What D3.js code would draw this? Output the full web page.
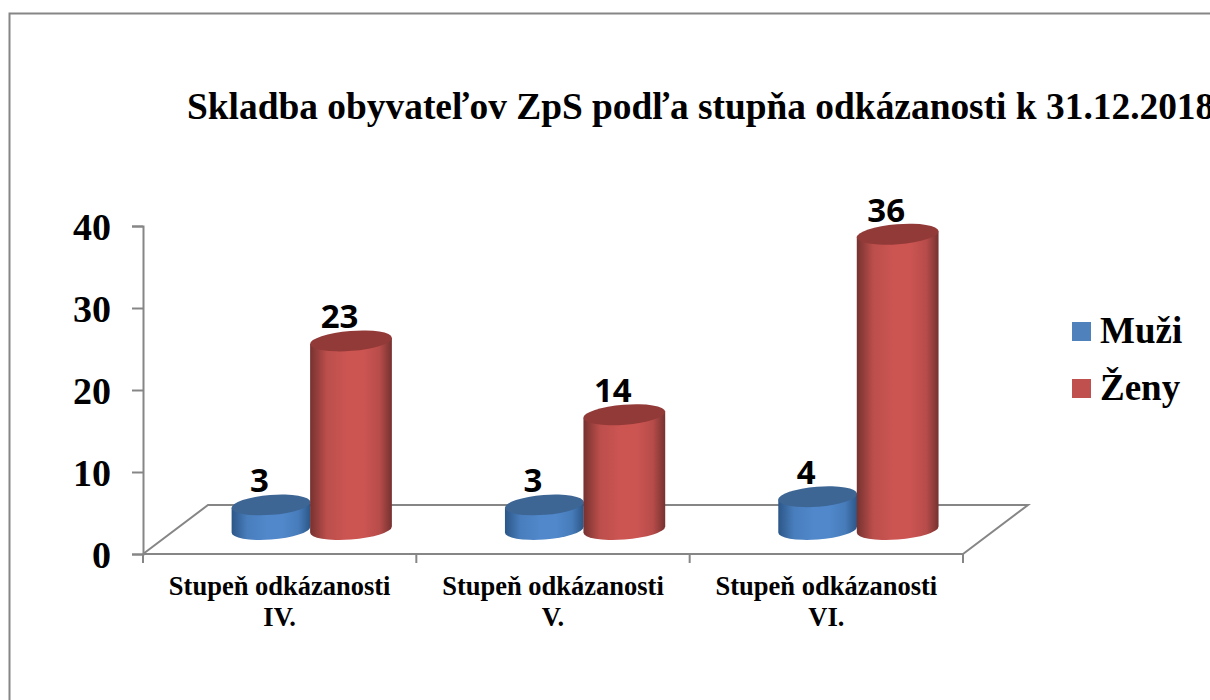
<!DOCTYPE html>
<html><head><meta charset="utf-8">
<script src="https://cdnjs.cloudflare.com/ajax/libs/d3/7.8.5/d3.min.js"></script>
<style>html,body{margin:0;padding:0;background:#fff;overflow:hidden}svg{display:block}</style>
</head><body><svg id="c" width="1210" height="700"></svg>
<script>
const chartTitle = "Skladba obyvateľov ZpS podľa stupňa odkázanosti k 31.12.2018";
const categories = ["Stupeň odkázanosti IV.", "Stupeň odkázanosti V.", "Stupeň odkázanosti VI."];
const categoryLines = [["Stupeň odkázanosti","IV."],["Stupeň odkázanosti","V."],["Stupeň odkázanosti","VI."]];
const seriesNames = ["Muži", "Ženy"];
const muzi = [3, 3, 4];
const zeny = [23, 14, 36];
const yTicks = [0, 10, 20, 30, 40];

const grey = "#868686", serif = "'Liberation Serif','Times New Roman',serif";
const svg = d3.select("#c");
const defs = svg.append("defs");
const palette = [
  {edge:"#2c5687", mid:"#5088cb", top:"#3d6695", id:"gb", rx:39.5},
  {edge:"#763230", mid:"#cc5552", top:"#923a38", id:"gr", rx:41}
];
palette.forEach(p=>{
  const g = defs.append("linearGradient").attr("id",p.id).attr("x1",0).attr("x2",1).attr("y1",0).attr("y2",0);
  [[0,p.edge],[.2,d3.interpolateRgb(p.edge,p.mid)(.8)],[.45,p.mid],[.65,p.mid],[.85,d3.interpolateRgb(p.edge,p.mid)(.75)],[1,p.edge]]
    .forEach(s=>g.append("stop").attr("offset",s[0]).attr("stop-color",s[1]));
});

// frame
svg.append("path").attr("d","M9.5,700V13.5H1210").attr("fill","none").attr("stroke",grey).attr("stroke-width",2);

// scales
const y = d3.scaleLinear().domain([0,40]).range([554,226]);
const x = d3.scaleBand().domain(categories).range([143,963]);
const series = d3.scaleBand().domain(seriesNames).range([0,160]);
const depthX = 65, depthY = -49;

// floor
svg.append("path")
  .attr("d", d3.line()([[x.range()[0],y(0)],[x.range()[0]+depthX,y(0)+depthY],[x.range()[1]+depthX,y(0)+depthY],[x.range()[1],y(0)]]))
  .attr("fill","none").attr("stroke",grey).attr("stroke-width",2);

// y axis
const yAxis = svg.append("g").attr("transform",`translate(${x.range()[0]},0)`)
  .call(d3.axisLeft(y).tickValues(yTicks).tickSize(11).tickPadding(21));
yAxis.selectAll("path,line").attr("stroke",grey).attr("stroke-width",2);
yAxis.selectAll("text").attr("font-family",serif).attr("font-weight","bold").attr("font-size",38).attr("fill","#000").attr("dy","13");

// x axis
const xAxis = svg.append("g").attr("transform",`translate(0,${y(0)})`);
xAxis.append("line").attr("x1",x.range()[0]).attr("x2",x.range()[1]).attr("stroke",grey).attr("stroke-width",2);
const edges = categories.map(c=>x(c)).concat(x.range()[1]);
xAxis.selectAll("line.t").data(edges).join("line").attr("class","t").attr("x1",d=>d).attr("x2",d=>d).attr("y1",0).attr("y2",9).attr("stroke",grey).attr("stroke-width",2);
const lab = svg.append("g").attr("font-family",serif).attr("font-weight","bold").attr("font-size",26.5).attr("text-anchor","middle").attr("fill","#000");
categories.forEach((c,i)=>{
  const t = lab.append("text");
  categoryLines[i].forEach((s,j)=>t.append("tspan").attr("x",x(c)+x.bandwidth()/2).attr("y",595+j*31).text(s));
});

// cylinders
const ry = 10, tilt = -4.5*Math.PI/180;
function extreme(cx,cy,rx){
  const t = Math.atan2(-ry*Math.sin(tilt), rx*Math.cos(tilt));
  const dx = rx*Math.cos(t)*Math.cos(tilt)-ry*Math.sin(t)*Math.sin(tilt);
  const dy = rx*Math.cos(t)*Math.sin(tilt)+ry*Math.sin(t)*Math.cos(tilt);
  return {lx:cx-dx, ly:cy-dy, rx:cx+dx, ry:cy+dy};
}
const deg = tilt*180/Math.PI;
const base = y(0)+depthY/2;
function drawCyl(g,cx,v,p){
  const h = y(0)-y(v), rx = p.rx;
  const b = extreme(cx,base,rx), t = extreme(cx,base-h,rx);
  g.append("path").attr("fill",`url(#${p.id})`)
    .attr("d",`M${b.lx},${b.ly}A${rx},${ry} ${deg} 0 0 ${b.rx},${b.ry}L${t.rx},${t.ry}L${t.lx},${t.ly}Z`);
  g.append("ellipse").attr("cx",0).attr("cy",0).attr("rx",rx).attr("ry",ry).attr("fill",p.top)
    .attr("transform",`translate(${cx},${base-h}) rotate(${deg})`);
  g.append("text").attr("x",cx-11.5).attr("y",base-h-12.5).attr("text-anchor","middle")
    .attr("font-family","'Open Sans',sans-serif").attr("font-weight","bold").attr("font-size",33).attr("fill","#000").text(v);
}
const marks = svg.append("g");
categories.forEach((c,i)=>{
  const c0 = x(c)+depthX/2;
  const g = marks.append("g");
  [muzi,zeny].forEach((arr,k)=>{
    const cx = c0+series(seriesNames[k])+series.bandwidth()/2+55.5;
    drawCyl(g,cx,arr[i],palette[k]);
  });
});

// title
svg.append("text").attr("x",187).attr("y",119).attr("font-family",serif).attr("font-weight","bold").attr("font-size",37.4).attr("fill","#000").text(chartTitle);

// legend
const leg = svg.append("g");
seriesNames.forEach((s,i)=>{
  const yy = 322+i*57;
  leg.append("rect").attr("x",1072).attr("y",yy).attr("width",19).attr("height",19).attr("fill",i?"#c0504d":"#4f81bd");
  leg.append("text").attr("x",1100).attr("y",yy+21).attr("font-family",serif).attr("font-weight","bold").attr("font-size",37).attr("fill","#000").text(s);
});
</script></body></html>
